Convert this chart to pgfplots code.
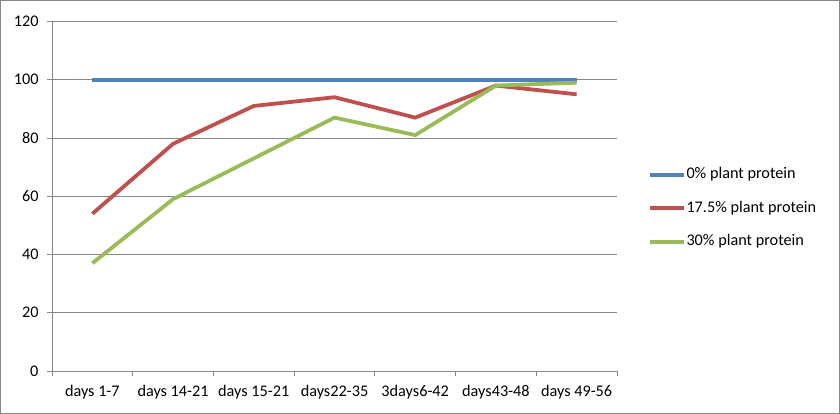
\documentclass[border=0pt]{standalone}
\usepackage{fontspec}
\setmainfont{Carlito}
\usepackage{pgfplots}
\pgfplotsset{compat=1.18}
\definecolor{cblue}{HTML}{4F81BD}
\definecolor{cred}{HTML}{C0504D}
\definecolor{cgreen}{HTML}{9BBB59}
\definecolor{cgrid}{HTML}{868686}
\begin{document}
\begin{tikzpicture}
\path[use as bounding box] (0,0) rectangle (840bp,414bp);
\draw[cgrid, line width=1bp] (0.5bp,0.5bp) rectangle (839.5bp,413.5bp);
\begin{axis}[
  at={(52bp,43bp)}, anchor=south west,
  scale only axis, width=565bp, height=349.5bp,
  xmin=-0.5, xmax=6.5, ymin=0, ymax=120,
  xtick={-0.5,0.5,...,6.5},
  x tick label as interval,
  xticklabels={days 1-7,days 14-21,days 15-21,days22-35,3days6-42,days43-48,days 49-56},
  ytick={0,20,...,120},
  ymajorgrids, grid style={cgrid, line width=0.8bp},
  axis x line*=bottom, axis y line*=left,
  axis line style={cgrid, line width=0.8bp},
  tick style={cgrid, line width=0.8bp},
  tick align=outside, major tick length=5bp,
  ticklabel style={font=\fontsize{16.3}{19}\selectfont, text=black},
  xticklabel style={yshift=-6bp},
  yticklabel style={xshift=-5bp},
  /pgf/number format/assume math mode=true,
  legend style={at={(1.054,0.466)}, anchor=west, draw=none, fill=none,
    font=\fontsize{16.3}{19}\selectfont, inner sep=0pt,
    nodes={inner sep=0pt, text height=12bp, text depth=4bp},
    row sep=17.5bp, column sep=1bp},
  legend cell align=left,
  legend image code/.code={\draw[#1] (0bp,0bp) -- (34bp,0bp);},
]
\addplot[cblue, line width=3.8bp] coordinates {(0,100) (1,100) (2,100) (3,100) (4,100) (5,100) (6,100)};
\addlegendentry{0\% plant protein}
\addplot[cred, line width=3.8bp] coordinates {(0,54) (1,78) (2,91) (3,94) (4,87) (5,98) (6,95)};
\addlegendentry{17.5\% plant protein}
\addplot[cgreen, line width=3.8bp] coordinates {(0,37) (1,59) (2,73) (3,87) (4,81) (5,98) (6,99)};
\addlegendentry{30\% plant protein}
\end{axis}
\end{tikzpicture}
\end{document}
